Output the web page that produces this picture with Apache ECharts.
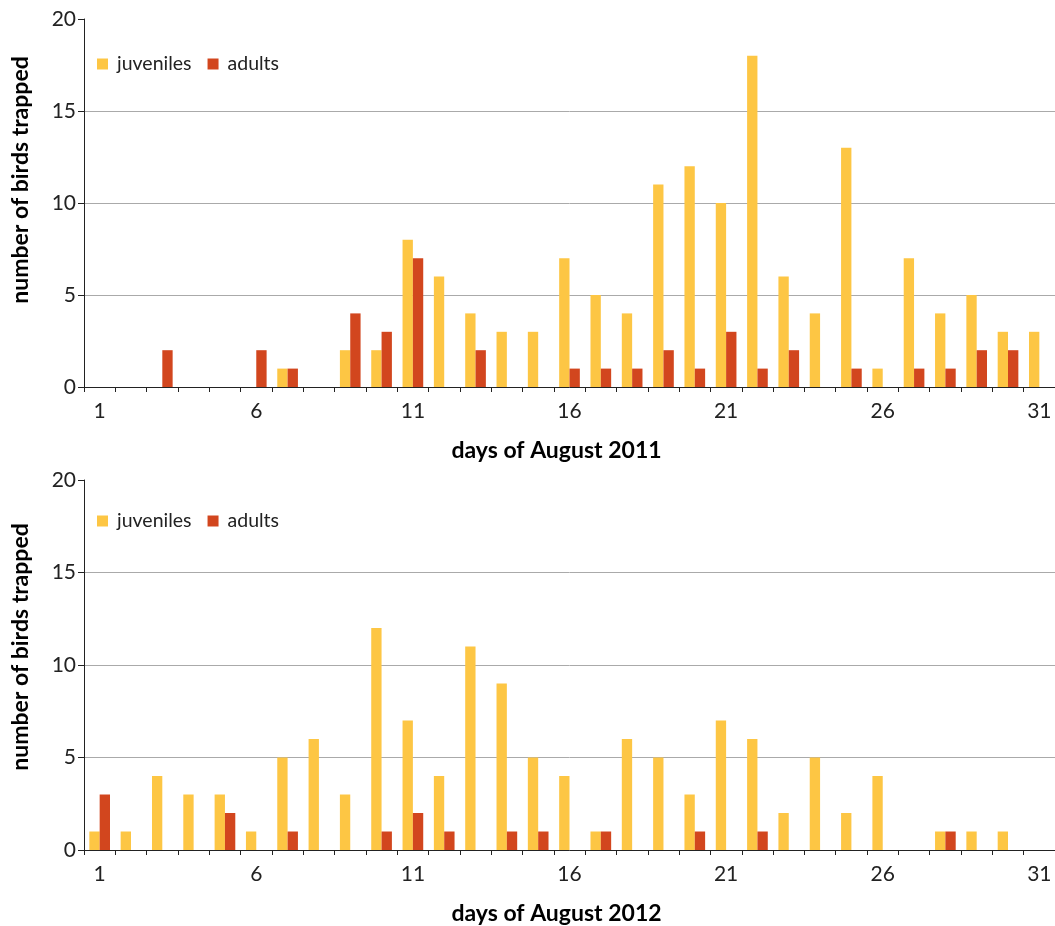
<!DOCTYPE html>
<html>
<head>
<meta charset="utf-8">
<script src="https://cdn.jsdelivr.net/npm/echarts@6/dist/echarts.min.js"></script>
<style>
html,body{margin:0;padding:0;background:#fff;}
#chart{width:1055px;height:926px;}
</style>
</head>
<body>
<div id="chart"></div>
<script>
const days = ['1','2','3','4','5','6','7','8','9','10','11','12','13','14','15','16','17','18','19','20','21','22','23','24','25','26','27','28','29','30','31'];
const juveniles2011 = [0,0,0,0,0,0,1,0,2,2,8,6,4,3,3,7,5,4,11,12,10,18,6,4,13,1,7,4,5,3,3];
const adults2011    = [0,0,2,0,0,2,1,0,4,3,7,0,2,0,0,1,1,1,2,1,3,1,2,0,1,0,1,1,2,2,0];
const juveniles2012 = [1,1,4,3,3,1,5,6,3,12,7,4,11,9,5,4,1,6,5,3,7,6,2,5,2,4,0,1,1,1,0];
const adults2012    = [3,0,0,0,2,0,1,0,0,1,2,1,0,1,1,0,1,0,0,1,0,1,0,0,0,0,0,1,0,0,0];
const yTicks = {min:0, max:20, interval:5};
const xTitles = ['days of August 2011','days of August 2012'];
const yTitle = 'number of birds trapped';

const FONT = 'Lato';
const YELLOW = '#FDC644';
const RED = '#D2461E';

function nz(arr){ return arr.map(v => v === 0 ? null : v); }

const chart = echarts.init(document.getElementById('chart'), null, {renderer:'canvas'});

function xAxisFor(i){
  return {
    type:'category', gridIndex:i, data:days,
    boundaryGap:true,
    axisLine:{show:true, lineStyle:{color:'#222', width:1}},
    axisTick:{show:true, interval:0, length:5, lineStyle:{color:'#222'}},
    axisLabel:{interval:4, color:'#222', fontSize:21, fontFamily:FONT, margin:14},
    name:xTitles[i], nameLocation:'middle', nameGap:52,
    nameTextStyle:{fontFamily:FONT, fontWeight:'bold', fontSize:23, color:'#000', padding:[0,26,0,0]},
    splitLine:{show:false}
  };
}
function yAxisFor(i){
  return {
    type:'value', gridIndex:i, min:yTicks.min, max:yTicks.max, interval:yTicks.interval,
    axisLine:{show:true, lineStyle:{color:'#222', width:1}},
    axisTick:{show:true, length:6, lineStyle:{color:'#222'}},
    axisLabel:{color:'#222', fontSize:21, fontFamily:FONT, margin:8},
    splitLine:{show:true, showMaxLine:false, lineStyle:{color:'#aaa', width:1}},
    name:yTitle, nameLocation:'middle', nameGap:52, nameRotate:90,
    nameTextStyle:{fontFamily:FONT, fontWeight:'bold', fontSize:23, color:'#000', padding:[0,0,0,i === 0 ? 46 : 36]}
  };
}
function bar(name, data, color, i){
  return {
    name, type:'bar', xAxisIndex:i, yAxisIndex:i, data:nz(data),
    barGap:'0%', barCategoryGap:'34%',
    itemStyle:{color}, animation:false
  };
}

chart.setOption({
  animation:false,
  textStyle:{fontFamily:FONT},
  grid:[
    {left:84, top:19, width:974, height:368},
    {left:84, top:480, width:974, height:372}
  ],
  legend:[
    {left:92, top:49, icon:'rect', itemWidth:11, itemHeight:11, itemGap:16,
     textStyle:{fontFamily:FONT, fontSize:19.5, color:'#222', padding:[0,0,0,4]},
     data:['juveniles','adults']},
    {left:92, top:506, icon:'rect', itemWidth:11, itemHeight:11, itemGap:16,
     textStyle:{fontFamily:FONT, fontSize:19.5, color:'#222', padding:[0,0,0,4]},
     data:['juveniles','adults']}
  ],
  xAxis:[xAxisFor(0), xAxisFor(1)],
  yAxis:[yAxisFor(0), yAxisFor(1)],
  series:[
    bar('juveniles', juveniles2011, YELLOW, 0),
    bar('adults', adults2011, RED, 0),
    bar('juveniles', juveniles2012, YELLOW, 1),
    bar('adults', adults2012, RED, 1)
  ]
});
</script>
</body>
</html>
